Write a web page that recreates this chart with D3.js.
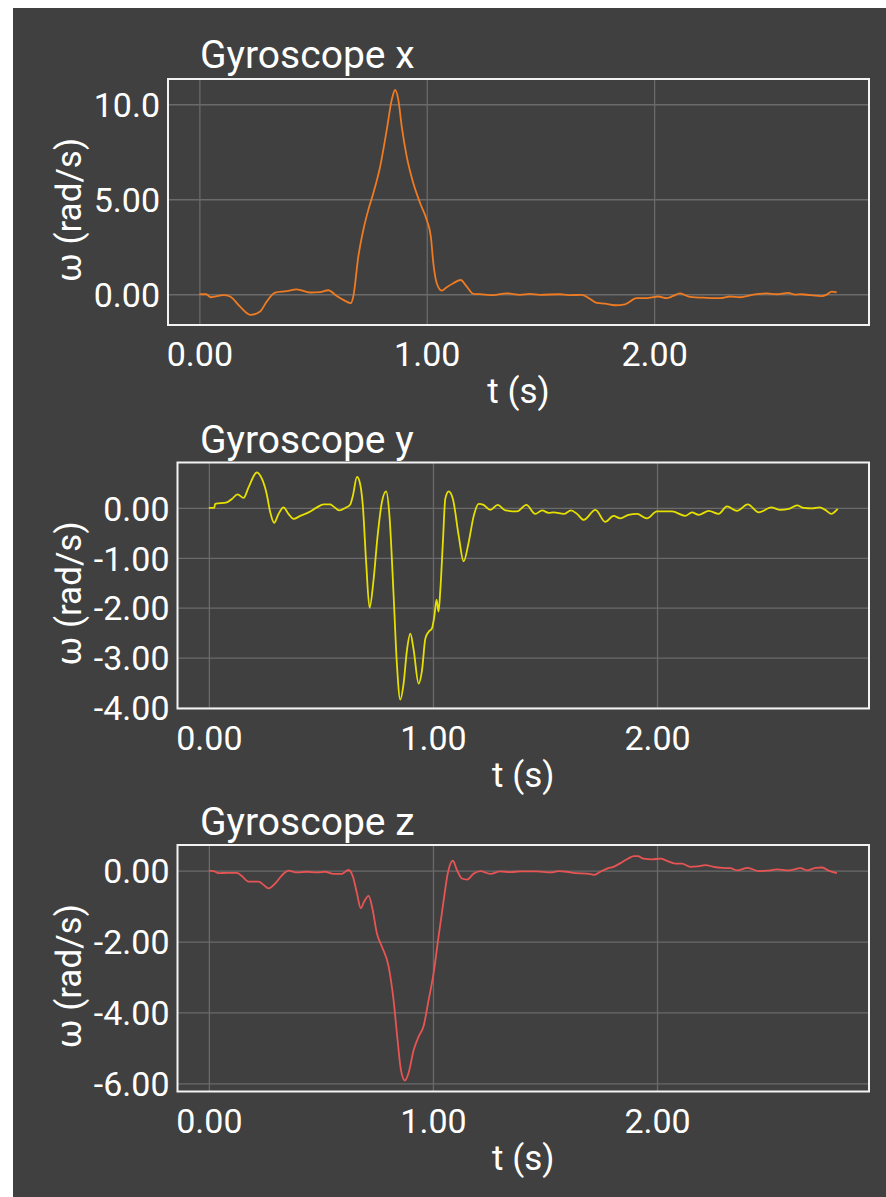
<!DOCTYPE html>
<html>
<head>
<meta charset="utf-8">
<script src="https://cdn.jsdelivr.net/npm/d3@7/dist/d3.min.js"></script>
<style>
  html, body { margin: 0; padding: 0; background: #ffffff; }
  svg { display: block; }
  text { font-family: Roboto, "Noto Sans", sans-serif; fill: #ffffff; }
</style>
</head>
<body>
<svg id="chart" width="886" height="1197"></svg>
<script>
// Angular velocity recordings (t in seconds, ω in rad/s)
const gyroXTime = [0, 0.03, 0.05, 0.106, 0.135, 0.179, 0.226, 0.267, 0.296, 0.333, 0.384, 0.428, 0.487, 0.531, 0.567, 0.604, 0.641, 0.666, 0.677, 0.699, 0.721, 0.743, 0.765, 0.795, 0.824, 0.846, 0.861, 0.875, 0.890, 0.912, 0.941, 0.971, 1.000, 1.018, 1.029, 1.044, 1.066, 1.088, 1.117, 1.149, 1.176, 1.205, 1.234, 1.293, 1.352, 1.41, 1.454, 1.498, 1.586, 1.623, 1.682, 1.711, 1.748, 1.784, 1.828, 1.872, 1.923, 1.967, 2.018, 2.055, 2.084, 2.114, 2.158, 2.231, 2.29, 2.334, 2.378, 2.436, 2.495, 2.539, 2.590, 2.62, 2.649, 2.686, 2.737, 2.759, 2.781, 2.803];
const gyroXValue = [0, 0, -0.16, -0.05, -0.12, -0.65, -1.09, -0.91, -0.39, 0.09, 0.16, 0.26, 0.09, 0.11, 0.21, -0.09, -0.35, -0.47, -0.12, 1.98, 3.38, 4.44, 5.32, 6.72, 8.65, 10.23, 10.75, 10.23, 8.82, 7.24, 5.84, 4.79, 3.91, 3.03, 1.63, 0.58, 0.19, 0.37, 0.58, 0.75, 0.40, 0.02, 0.0, -0.05, 0.05, -0.03, 0.02, -0.03, 0, -0.05, -0.03, -0.19, -0.46, -0.5, -0.58, -0.53, -0.21, -0.2, -0.12, -0.21, -0.09, 0.04, -0.14, -0.19, -0.21, -0.12, -0.16, -0.02, 0.04, 0, 0.07, -0.02, 0, -0.05, -0.1, -0.02, 0.14, 0.1];

const gyroYTime = [0, 0.024, 0.028, 0.08, 0.103, 0.128, 0.155, 0.177, 0.214, 0.236, 0.258, 0.274, 0.291, 0.311, 0.333, 0.355, 0.378, 0.408, 0.445, 0.482, 0.512, 0.541, 0.556, 0.582, 0.609, 0.631, 0.643, 0.661, 0.673, 0.687, 0.702, 0.717, 0.735, 0.753, 0.772, 0.791, 0.806, 0.824, 0.839, 0.854, 0.869, 0.884, 0.899, 0.914, 0.936, 0.951, 0.966, 0.981, 0.995, 1.006, 1.016, 1.025, 1.033, 1.045, 1.055, 1.070, 1.089, 1.115, 1.137, 1.159, 1.182, 1.204, 1.226, 1.256, 1.289, 1.323, 1.375, 1.417, 1.457, 1.487, 1.516, 1.539, 1.584, 1.616, 1.643, 1.673, 1.725, 1.769, 1.806, 1.836, 1.873, 1.911, 1.955, 2.000, 2.067, 2.126, 2.156, 2.186, 2.231, 2.275, 2.312, 2.357, 2.405, 2.454, 2.509, 2.550, 2.588, 2.625, 2.655, 2.692, 2.726, 2.751, 2.777, 2.806];
const gyroYValue = [0, 0, 0.08, 0.11, 0.18, 0.27, 0.20, 0.41, 0.71, 0.59, 0.28, -0.09, -0.30, -0.12, 0.01, -0.12, -0.22, -0.16, -0.09, 0.01, 0.07, 0.07, 0.03, -0.05, 0, 0.07, 0.25, 0.62, 0.52, 0.05, -1.10, -2.00, -1.44, -0.56, 0.11, 0.33, -0.16, -1.71, -3.12, -3.84, -3.52, -2.85, -2.52, -2.85, -3.52, -3.26, -2.62, -2.48, -2.42, -2.18, -1.84, -2.08, -1.64, -0.63, 0.18, 0.33, 0.18, -0.56, -1.07, -0.70, -0.16, 0.08, 0.06, -0.04, 0.06, -0.05, -0.07, 0.06, -0.12, -0.05, -0.10, -0.09, -0.12, -0.05, -0.12, -0.24, -0.04, -0.28, -0.16, -0.21, -0.14, -0.12, -0.21, -0.07, -0.07, -0.16, -0.09, -0.14, -0.06, -0.12, 0.03, -0.06, 0.07, -0.09, 0.01, -0.04, -0.02, 0.05, 0, -0.01, 0.01, -0.04, -0.12, -0.02];

const gyroZTime = [0, 0.021, 0.043, 0.080, 0.125, 0.147, 0.177, 0.222, 0.244, 0.266, 0.296, 0.326, 0.356, 0.393, 0.437, 0.482, 0.519, 0.556, 0.593, 0.623, 0.643, 0.661, 0.678, 0.693, 0.713, 0.728, 0.750, 0.772, 0.802, 0.824, 0.842, 0.857, 0.875, 0.891, 0.914, 0.936, 0.958, 0.981, 1.003, 1.025, 1.048, 1.066, 1.089, 1.107, 1.129, 1.152, 1.182, 1.211, 1.256, 1.300, 1.345, 1.390, 1.464, 1.524, 1.561, 1.598, 1.635, 1.687, 1.720, 1.747, 1.777, 1.806, 1.844, 1.873, 1.896, 1.914, 1.940, 1.977, 2.015, 2.044, 2.082, 2.111, 2.149, 2.179, 2.216, 2.253, 2.290, 2.327, 2.357, 2.405, 2.454, 2.491, 2.535, 2.587, 2.640, 2.670, 2.707, 2.737, 2.766, 2.803];
const gyroZValue = [0, -0.01, -0.07, -0.06, -0.06, -0.15, -0.31, -0.31, -0.40, -0.50, -0.36, -0.13, 0, -0.05, -0.03, -0.05, -0.03, -0.09, -0.09, 0.02, -0.17, -0.64, -1.06, -0.87, -0.71, -1.01, -1.77, -2.14, -2.70, -3.64, -4.77, -5.62, -5.92, -5.71, -5.06, -4.68, -4.39, -3.64, -2.89, -1.86, -0.83, -0.08, 0.28, 0.02, -0.22, -0.25, -0.08, -0.01, -0.09, -0.02, -0.04, -0.02, -0.02, -0.05, -0.01, -0.03, -0.07, -0.08, -0.12, -0.03, 0.06, 0.11, 0.24, 0.35, 0.41, 0.41, 0.34, 0.32, 0.34, 0.28, 0.20, 0.20, 0.11, 0.12, 0.16, 0.11, 0.08, 0.07, 0.01, 0.08, -0.01, 0, 0.04, 0.01, 0.07, 0.01, 0.08, 0.09, 0, -0.07];

// Panel titles, axis labels and ticks
const panelTitles = ["Gyroscope x", "Gyroscope y", "Gyroscope z"];
const xAxisTitle = "t (s)";
const yAxisTitle = "ω (rad/s)";
const timeTicks = [0, 1, 2];
const timeTickLabels = ["0.00", "1.00", "2.00"];
const xTicksX = [0, 5, 10];
const xTickLabelsX = ["0.00", "5.00", "10.0"];
const yTicksY = [0, -1, -2, -3, -4];
const yTickLabelsY = ["0.00", "-1.00", "-2.00", "-3.00", "-4.00"];
const zTicksZ = [0, -2, -4, -6];
const zTickLabelsZ = ["0.00", "-2.00", "-4.00", "-6.00"];
const timeDomains = [[-0.138, 2.945], [-0.140, 2.946], [-0.140, 2.946]];
const valueDomains = [[-1.62, 11.33], [-4.02, 0.91], [-6.23, 0.725]];
const lineColors = ["#ee7a22", "#e6e000", "#e85454"];

const panels = [
  { time: gyroXTime, value: gyroXValue, ticks: xTicksX, labels: xTickLabelsX,
    box: { left: 168, right: 869, top: 79, bottom: 325 } },
  { time: gyroYTime, value: gyroYValue, ticks: yTicksY, labels: yTickLabelsY,
    box: { left: 177.5, right: 869, top: 462.5, bottom: 708.5 } },
  { time: gyroZTime, value: gyroZValue, ticks: zTicksZ, labels: zTickLabelsZ,
    box: { left: 177.5, right: 869, top: 845, bottom: 1091.5 } }
];
const titleBaselines = [68, 453, 835];
const tickFont = 34;
const labelFont = 35;
const titleFont = 39;

const svg = d3.select("#chart");

// dark backdrop
svg.append("rect")
  .attr("x", 13).attr("y", 8)
  .attr("width", 886 - 13).attr("height", 1197 - 8)
  .attr("fill", "#404040");

panels.forEach((p, i) => {
  const b = p.box;
  const x = d3.scaleLinear().domain(timeDomains[i]).range([b.left, b.right]);
  const y = d3.scaleLinear().domain(valueDomains[i]).range([b.bottom, b.top]);
  const g = svg.append("g");

  // grid
  const xGrid = d3.axisBottom(x).tickValues(timeTicks).tickSize(-(b.bottom - b.top)).tickFormat("");
  g.append("g").attr("transform", `translate(0,${b.bottom})`).call(xGrid)
    .call(s => s.select(".domain").remove())
    .call(s => s.selectAll("line").attr("stroke", "#6a6a6a").attr("stroke-width", 1.3));
  const yGrid = d3.axisLeft(y).tickValues(p.ticks).tickSize(-(b.right - b.left)).tickFormat("");
  g.append("g").attr("transform", `translate(${b.left},0)`).call(yGrid)
    .call(s => s.select(".domain").remove())
    .call(s => s.selectAll("line").attr("stroke", "#6a6a6a").attr("stroke-width", 1.3));

  // tick labels
  const xAxis = d3.axisBottom(x).tickValues(timeTicks).tickSize(0).tickPadding(0)
    .tickFormat((d, k) => timeTickLabels[k]);
  g.append("g").attr("transform", `translate(0,${b.bottom})`).call(xAxis)
    .call(s => s.select(".domain").remove())
    .call(s => s.selectAll("text")
      .attr("y", 41).attr("dy", null)
      .attr("fill", "#ffffff").attr("font-size", tickFont).attr("font-family", "Roboto"));

  const yAxis = d3.axisLeft(y).tickValues(p.ticks).tickSize(0).tickPadding(0)
    .tickFormat((d, k) => p.labels[k]);
  g.append("g").attr("transform", `translate(${b.left},0)`).call(yAxis)
    .call(s => s.select(".domain").remove())
    .call(s => s.selectAll("text")
      .attr("x", -8).attr("dy", "0.36em")
      .attr("fill", "#ffffff").attr("font-size", tickFont).attr("font-family", "Roboto"));

  // frame
  g.append("rect")
    .attr("x", b.left).attr("y", b.top)
    .attr("width", b.right - b.left).attr("height", b.bottom - b.top)
    .attr("fill", "none").attr("stroke", "#f2f2f2").attr("stroke-width", 2);

  // signal trace
  const pts = p.time.map((t, k) => [t, p.value[k]]);
  const line = d3.line().x(d => x(d[0])).y(d => y(d[1])).curve(d3.curveMonotoneX);
  g.append("path").datum(pts)
    .attr("d", line)
    .attr("fill", "none")
    .attr("stroke", lineColors[i])
    .attr("stroke-width", 1.8)
    .attr("stroke-linejoin", "round");

  // titles
  g.append("text")
    .attr("x", 200).attr("y", titleBaselines[i])
    .attr("font-size", titleFont)
    .text(panelTitles[i]);

  g.append("text")
    .attr("x", (b.left + b.right) / 2).attr("y", b.bottom + 78)
    .attr("text-anchor", "middle")
    .attr("font-size", labelFont)
    .text(xAxisTitle);

  g.append("text")
    .attr("transform", `translate(81,${(b.top + b.bottom) / 2 + 8}) rotate(-90)`)
    .attr("text-anchor", "middle")
    .attr("font-size", labelFont)
    .text(yAxisTitle);
});
</script>
</body>
</html>
